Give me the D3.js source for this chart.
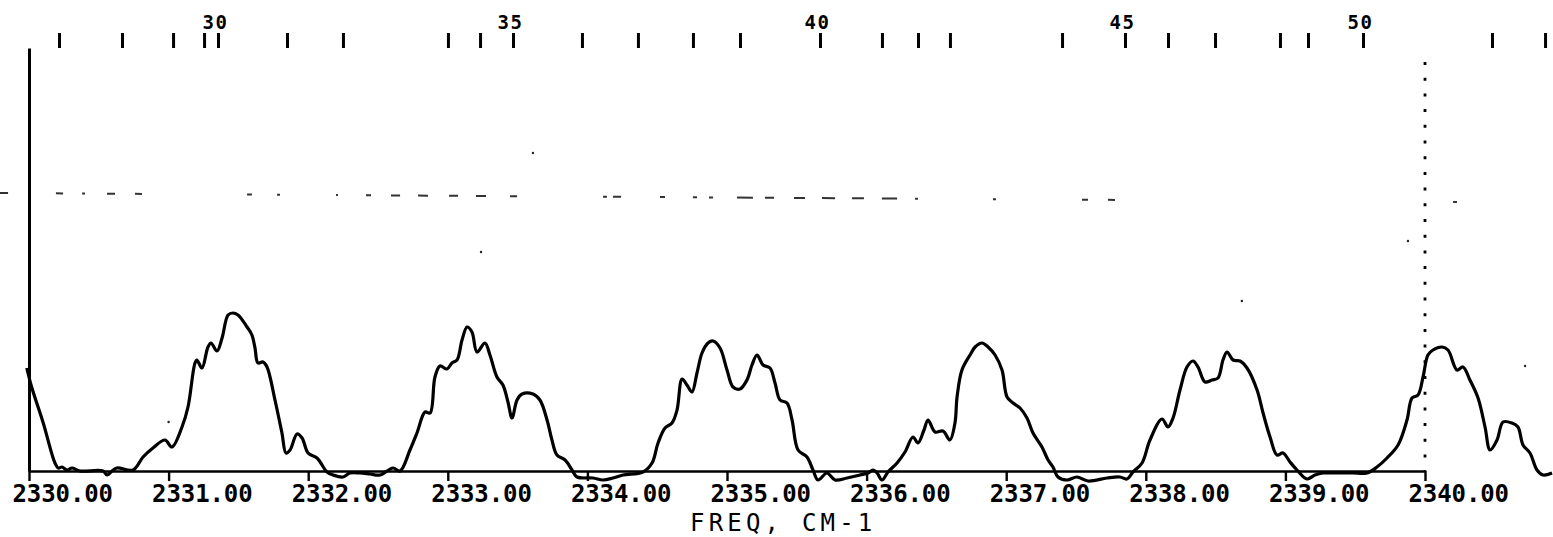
<!DOCTYPE html>
<html>
<head>
<meta charset="utf-8">
<script src="https://cdn.jsdelivr.net/npm/d3@7"></script>
<style>
  html, body { margin: 0; padding: 0; background: #fff; }
  svg { display: block; }
  text { font-family: "DejaVu Sans Mono", monospace; fill: #000; }
</style>
</head>
<body>
<div id="chart"></div>
<script>
// spectrum trace (freq in cm-1, intensity in arbitrary units)
var freq = [
  2329.984, 2330.019, 2330.102, 2330.186, 2330.210, 2330.236, 2330.272, 2330.308, 2330.365, 2330.530,
  2330.559, 2330.595, 2330.630, 2330.745, 2330.817, 2330.888, 2330.974, 2331.024, 2331.096, 2331.139,
  2331.189, 2331.203, 2331.239, 2331.282, 2331.304, 2331.347, 2331.383, 2331.426, 2331.461, 2331.497,
  2331.562, 2331.597, 2331.619, 2331.640, 2331.676, 2331.705, 2331.762, 2331.812, 2331.841, 2331.870,
  2331.920, 2331.956, 2331.999, 2332.063, 2332.135, 2332.178, 2332.249, 2332.299, 2332.371, 2332.443,
  2332.514, 2332.607, 2332.658, 2332.729, 2332.779, 2332.837, 2332.873, 2332.908, 2332.944, 2332.994,
  2333.030, 2333.066, 2333.102, 2333.138, 2333.173, 2333.209, 2333.266, 2333.302, 2333.352, 2333.395,
  2333.431, 2333.460, 2333.496, 2333.532, 2333.610, 2333.660, 2333.711, 2333.746, 2333.782, 2333.840,
  2333.890, 2333.926, 2334.040, 2334.112, 2334.183, 2334.255, 2334.398, 2334.463, 2334.506, 2334.556,
  2334.606, 2334.642, 2334.678, 2334.713, 2334.749, 2334.785, 2334.821, 2334.864, 2334.900, 2334.950,
  2335.000, 2335.043, 2335.093, 2335.143, 2335.179, 2335.215, 2335.258, 2335.308, 2335.344, 2335.380,
  2335.430, 2335.466, 2335.509, 2335.573, 2335.616, 2335.652, 2335.716, 2335.774, 2335.860, 2335.953,
  2336.010, 2336.046, 2336.075, 2336.110, 2336.153, 2336.218, 2336.275, 2336.332, 2336.368, 2336.411,
  2336.440, 2336.490, 2336.547, 2336.597, 2336.633, 2336.648, 2336.683, 2336.741, 2336.777, 2336.827,
  2336.870, 2336.920, 2336.970, 2337.006, 2337.049, 2337.099, 2337.149, 2337.192, 2337.256, 2337.300,
  2337.335, 2337.371, 2337.436, 2337.507, 2337.586, 2337.722, 2337.815, 2337.865, 2337.908, 2337.973,
  2338.030, 2338.116, 2338.159, 2338.195, 2338.245, 2338.295, 2338.338, 2338.374, 2338.424, 2338.474,
  2338.517, 2338.553, 2338.582, 2338.625, 2338.675, 2338.725, 2338.797, 2338.840, 2338.890, 2338.940,
  2338.983, 2339.033, 2339.083, 2339.155, 2339.212, 2339.269, 2339.370, 2339.484, 2339.585, 2339.656,
  2339.728, 2339.807, 2339.871, 2339.907, 2339.950, 2339.986, 2340.021, 2340.057, 2340.122, 2340.165,
  2340.229, 2340.272, 2340.322, 2340.380, 2340.430, 2340.466, 2340.516, 2340.559, 2340.623, 2340.666,
  2340.702, 2340.752, 2340.802, 2340.845, 2340.910
];
var intensity = [
  1.03, 0.84, 0.48, 0.08, 0.03, 0.04, 0.01, 0.03, 0.00, 0.00,
  -0.04, 0.00, 0.03, 0.01, 0.14, 0.23, 0.31, 0.24, 0.44, 0.64,
  1.08, 1.11, 1.03, 1.24, 1.28, 1.20, 1.33, 1.56, 1.58, 1.56,
  1.44, 1.36, 1.23, 1.08, 1.09, 1.04, 0.71, 0.38, 0.18, 0.21,
  0.37, 0.33, 0.18, 0.13, -0.01, -0.04, -0.06, -0.02, -0.02, -0.03,
  -0.04, 0.03, 0.00, 0.21, 0.38, 0.59, 0.58, 0.94, 1.05, 1.02,
  1.08, 1.11, 1.31, 1.44, 1.39, 1.19, 1.28, 1.16, 0.94, 0.86,
  0.69, 0.53, 0.71, 0.77, 0.77, 0.71, 0.51, 0.31, 0.16, 0.11,
  0.01, -0.06, -0.07, -0.09, -0.07, -0.04, -0.01, 0.08, 0.28, 0.43,
  0.48, 0.61, 0.92, 0.86, 0.79, 0.98, 1.18, 1.28, 1.30, 1.23,
  1.01, 0.84, 0.82, 0.91, 1.06, 1.16, 1.06, 1.03, 0.88, 0.71,
  0.68, 0.51, 0.21, 0.14, 0.01, -0.09, -0.02, -0.09, -0.07, -0.04,
  -0.02, 0.01, -0.02, -0.09, -0.01, 0.08, 0.19, 0.34, 0.28, 0.41,
  0.51, 0.39, 0.40, 0.31, 0.48, 0.74, 1.01, 1.16, 1.24, 1.28,
  1.24, 1.16, 1.01, 0.74, 0.68, 0.63, 0.53, 0.38, 0.24, 0.11,
  0.04, -0.06, -0.09, -0.06, -0.10, -0.07, -0.06, -0.08, -0.01, 0.08,
  0.31, 0.52, 0.44, 0.53, 0.81, 1.04, 1.10, 1.04, 0.89, 0.91,
  0.93, 1.11, 1.19, 1.11, 1.10, 1.03, 0.81, 0.58, 0.34, 0.16,
  0.18, 0.09, 0.01, -0.08, -0.04, -0.02, -0.02, -0.02, -0.02, 0.04,
  0.13, 0.26, 0.51, 0.73, 0.76, 0.94, 1.16, 1.21, 1.24, 1.21,
  1.01, 1.04, 0.91, 0.73, 0.44, 0.21, 0.31, 0.49, 0.48, 0.44,
  0.26, 0.18, 0.01, -0.04, -0.02
];

// rotational line markers along the top, J = 26 .. 52
var lineJ = d3.range(26, 53);
var linePos = [
  2330.215, 2330.666, 2331.032, 2331.254, 2331.354, 2331.848, 2332.249, 2333.001, 2333.231, 2333.467,
  2333.961, 2334.362, 2334.756, 2335.093, 2335.666, 2336.110, 2336.368, 2336.597, 2337.400, 2337.851,
  2338.159, 2338.496, 2338.961, 2339.162, 2339.556, 2340.480, 2340.860
];

// bottom axis ticks
var freqTicks = d3.range(2330, 2341, 1);

// faint dashed level line: end points and the pieces that show
var levelEnds = [[2329.79, 2.78], [2340.23, 2.69]];
var levelDashes = [
  [2329.792, 2329.850], [2330.193, 2330.244], [2330.380, 2330.401], [2330.559, 2330.616],
  [2330.759, 2330.809], [2331.562, 2331.597], [2331.777, 2331.798], [2332.199, 2332.213],
  [2332.414, 2332.450], [2332.593, 2332.658], [2332.787, 2332.858], [2333.009, 2333.073],
  [2333.202, 2333.274], [2333.446, 2333.496], [2334.112, 2334.140], [2334.183, 2334.241],
  [2334.520, 2334.556], [2334.756, 2334.785], [2334.871, 2334.900], [2335.072, 2335.186],
  [2335.272, 2335.337], [2335.480, 2335.559], [2335.680, 2335.774], [2335.895, 2335.981],
  [2336.110, 2336.218], [2336.347, 2336.368], [2336.905, 2336.927], [2337.543, 2337.586],
  [2337.729, 2337.779], [2340.201, 2340.229]
];

// marker position (dotted vertical) and stray specks on the sheet
var markerFreq = 2340.0;
var markerTop = 4.09;
var specks = [[2331.0, 0.49], [2333.238, 2.19], [2333.610, 3.18], [2338.688, 1.70], [2339.878, 2.30], [2340.717, 1.05]];

var W = 1553, H = 537;

var svg = d3.select('#chart').append('svg')
  .attr('width', W)
  .attr('height', H);

svg.append('rect')
  .attr('width', W)
  .attr('height', H)
  .style('fill', '#fff');

var x = d3.scaleLinear().domain([2330, 2340]).range([29, 1425]);
var y = d3.scaleLinear().domain([0, 4.23]).range([471, 48]);

/* ---------- dashed level line ---------- */

var levelY = d3.scaleLinear()
  .domain([levelEnds[0][0], levelEnds[1][0]])
  .range([levelEnds[0][1], levelEnds[1][1]]);

svg.append('g')
  .selectAll('line')
  .data(levelDashes)
  .enter().append('line')
  .attr('x1', function(d){ return x(d[0]); })
  .attr('x2', function(d){ return x(d[1]); })
  .attr('y1', function(d){ return y(levelY(d[0])); })
  .attr('y2', function(d){ return y(levelY(d[1])); })
  .style('stroke', '#333')
  .style('stroke-width', 2);

/* ---------- specks ---------- */

svg.append('g')
  .selectAll('circle')
  .data(specks)
  .enter().append('circle')
  .attr('cx', function(d){ return x(d[0]); })
  .attr('cy', function(d){ return y(d[1]); })
  .attr('r', 1.2)
  .style('fill', '#222');

/* ---------- bottom axis ---------- */

var xAxis = d3.axisBottom(x)
  .tickValues(freqTicks)
  .tickFormat(d3.format('.2f'))
  .tickSize(10)
  .tickSizeOuter(0);

var gx = svg.append('g')
  .attr('transform', 'translate(0,' + y(0) + ')')
  .call(xAxis);

gx.select('.domain')
  .style('stroke', '#000')
  .style('stroke-width', 2.6);

gx.selectAll('.tick line')
  .style('stroke', '#000')
  .style('stroke-width', 2.4);

gx.selectAll('.tick text')
  .attr('x', -17)
  .attr('y', 31)
  .attr('dy', 0)
  .attr('text-anchor', 'start')
  .style('font-family', '"DejaVu Sans Mono", monospace')
  .style('font-weight', 'bold')
  .style('font-size', '24px')
  .style('letter-spacing', '-0.1px')
  .style('fill', '#000');

svg.append('text')
  .attr('x', 690)
  .attr('y', 531)
  .style('font-size', '24px')
  .style('letter-spacing', '4.2px')
  .text('FREQ, CM-1');

/* ---------- left axis ---------- */

var yAxis = d3.axisLeft(y)
  .tickValues([])
  .tickSizeOuter(0);

var gy = svg.append('g')
  .attr('transform', 'translate(' + x(2330) + ',0)')
  .call(yAxis);

gy.select('.domain')
  .style('stroke', '#000')
  .style('stroke-width', 3);

/* ---------- top line markers ---------- */

var topAxis = d3.axisTop(x)
  .tickValues(linePos)
  .tickSize(15)
  .tickSizeOuter(0)
  .tickFormat(function(d, i){
    return lineJ[i] % 5 === 0 ? lineJ[i] : '';
  });

var gt = svg.append('g')
  .attr('transform', 'translate(0,48)')
  .call(topAxis);

gt.select('.domain').remove();

gt.selectAll('.tick line')
  .style('stroke', '#000')
  .style('stroke-width', 3);

gt.selectAll('.tick text')
  .attr('x', -3)
  .attr('y', -19)
  .attr('dy', 0)
  .attr('text-anchor', 'middle')
  .style('font-family', '"DejaVu Sans Mono", monospace')
  .style('font-weight', 'bold')
  .style('font-size', '19px')
  .style('letter-spacing', '1.5px')
  .style('fill', '#000');

/* ---------- dotted marker ---------- */

svg.append('line')
  .attr('x1', x(markerFreq))
  .attr('x2', x(markerFreq))
  .attr('y1', y(markerTop))
  .attr('y2', y(0))
  .style('stroke', '#000')
  .style('stroke-width', 2.8)
  .style('stroke-dasharray', '3,12.7');

/* ---------- spectrum ---------- */

var pts = freq.map(function(f, i){ return [f, intensity[i]]; });

var line = d3.line()
  .x(function(d){ return x(d[0]); })
  .y(function(d){ return y(d[1]); })
  .curve(d3.curveCatmullRom.alpha(0.5));

svg.append('path')
  .datum(pts)
  .attr('d', line)
  .style('fill', 'none')
  .style('stroke', '#000')
  .style('stroke-width', 3.2)
  .style('stroke-linejoin', 'round');
</script>
</body>
</html>
